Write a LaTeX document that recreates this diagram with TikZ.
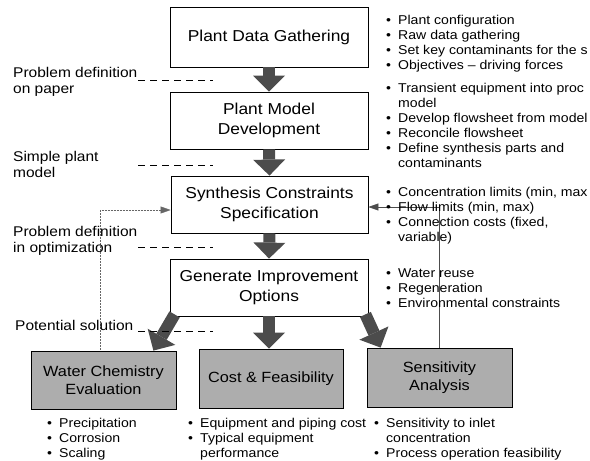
\documentclass[tikz,border=0pt]{standalone}
\usepackage{fontspec}
\setmainfont{Liberation Sans}[FakeStretch=1.1]
\usetikzlibrary{arrows.meta,calc}
\newcommand\myblt{\makebox[12pt][l]{\textbullet}}
\newcommand\myind{\hspace*{12pt}}
\begin{document}
\begin{tikzpicture}[x=1pt,y=-1pt,
  mainbox/.style={draw, line width=0.8pt, align=center, inner sep=0pt, font=\fontsize{15.8}{20}\selectfont},
  graybox/.style={draw, line width=0.8pt, fill=black!32, align=center, inner sep=0pt, font=\fontsize{14.8}{18}\selectfont},
  bigarrow/.style={line width=12pt, draw=black!70, -{Triangle[length=16pt,width=32pt,line width=0pt]}},
  fbleft/.style={line width=0.5pt, draw=black!60, densely dotted, -{Triangle[length=10pt,width=7pt]}},
  fbright/.style={line width=0.6pt, draw=black!70, -{Triangle[length=10pt,width=7pt]}},
  dashline/.style={line width=0.7pt, dash pattern=on 7pt off 5pt},
  lbl/.style={anchor=north west, align=left, inner sep=0pt, font=\fontsize{14.1}{16}\selectfont},
  blist/.style={anchor=north west, align=left, inner sep=0pt, font=\fontsize{12.8}{15}\selectfont}
]
\useasboundingbox (0,0) rectangle (590,461);

% main boxes
\node[mainbox, minimum width=198pt, minimum height=60pt] (box1) at (269,37) {Plant Data Gathering};
\node[mainbox, minimum width=198pt, minimum height=57pt] (box2) at (269,120.5) {Plant Model\\Development};
\node[mainbox, minimum width=197pt, minimum height=57pt] (box3) at (269.5,204.5) {Synthesis Constraints\\Specification};
\node[mainbox, minimum width=198pt, minimum height=57pt] (box4) at (269,287.5) {Generate Improvement\\Options};

% feedback lines
\coordinate (fl) at (100,210);
\coordinate (fr) at (439,207);
\draw[fbleft] (fl |- 351,351) -- (fl) -- (fl -| box3.west);
\draw[fbright] (fr |- 348,348) -- (fr) -- (fr -| box3.east);

% bottom boxes
\node[graybox, minimum width=145pt, minimum height=58pt] (wc) at (103.5,380) {Water Chemistry\\Evaluation};
\node[graybox, minimum width=144pt, minimum height=59pt] (cost) at (271,378.5) {Cost \& Feasibility};
\node[graybox, minimum width=145pt, minimum height=59pt] (sens) at (439.5,377.5) {Sensitivity\\Analysis};

% big arrows
\draw[bigarrow] (box1.south) -- (box2.north);
\draw[bigarrow] (box2.south) -- (box3.north);
\draw[bigarrow] (box3.south) -- (box4.north);
\draw[bigarrow] (box4.south) -- (box4.south |- cost.north);
\coordinate (ls) at ($(box4.south west)+(5,-2)$);
\coordinate (lt) at ($(wc.north east)+(-23,0)$);
\coordinate (rs) at ($(box4.south east)+(-3,-2)$);
\coordinate (rt) at ($(sens.north west)+(14,0)$);
\draw[bigarrow] (ls) -- (lt);
\draw[bigarrow] (rs) -- (rt);

% left labels and dashed lines
\node[lbl] (l1) at (13,67) {Problem definition\\on paper};
\node[lbl] (l2) at (13,151) {Simple plant\\model};
\node[lbl] (l3) at (13,226) {Problem definition\\in optimization};
\node[lbl] (l4) at (15,320) {Potential solution};
\coordinate (d1a) at (138,80);  \coordinate (d1b) at (213,80);
\coordinate (d2a) at (138,165); \coordinate (d2b) at (213,165);
\coordinate (d3a) at (138,247); \coordinate (d3b) at (213,247);
\coordinate (d4a) at (138,331); \coordinate (d4b) at (213,331);
\draw[dashline] (d1a) -- (d1b);
\draw[dashline] (d2a) -- (d2b);
\draw[dashline] (d3a) -- (d3b);
\draw[dashline] (d4a) -- (d4b);

% right bullet lists
\node[blist] (b1) at (386,14.7) {\myblt Plant configuration\\\myblt Raw data gathering\\\myblt Set key contaminants for the s\\\myblt Objectives – driving forces};
\node[blist] (b2) at (386,82.7) {\myblt Transient equipment into proc\\\myind model\\\myblt Develop flowsheet from model\\\myblt Reconcile flowsheet\\\myblt Define synthesis parts and\\\myind contaminants};
\node[blist] (b3) at (386,186.7) {\myblt Concentration limits (min, max\\\myblt Flow limits (min, max)\\\myblt Connection costs (fixed,\\\myind variable)};
\node[blist] (b4) at (386,268.7) {\myblt Water reuse\\\myblt Regeneration\\\myblt Environmental constraints};

% bottom bullet lists
\node[blist] (b5) at (47,417.7) {\myblt Precipitation\\\myblt Corrosion\\\myblt Scaling};
\node[blist] (b6) at (188,417.7) {\myblt Equipment and piping cost\\\myblt Typical equipment\\\myind performance};
\node[blist] (b7) at (374,417.7) {\myblt Sensitivity to inlet\\\myind concentration\\\myblt Process operation feasibility};
\end{tikzpicture}
\end{document}
